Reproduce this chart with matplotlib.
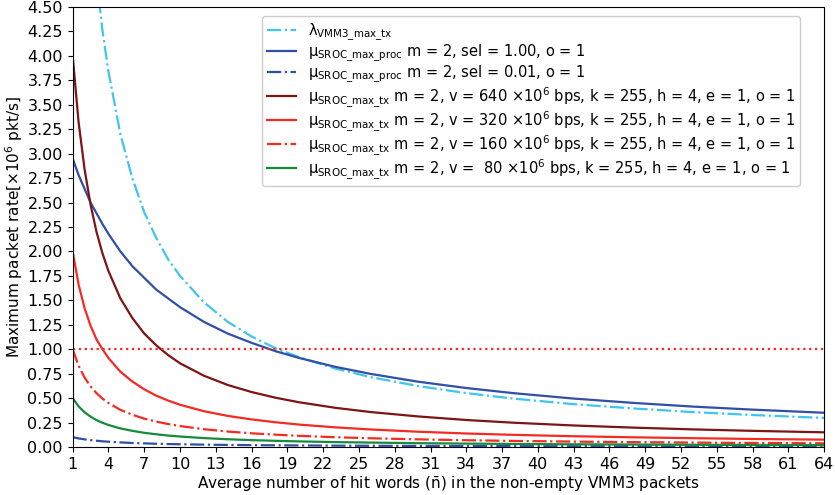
import matplotlib
matplotlib.use("Agg")
import matplotlib.pyplot as plt

# sample points along the hit-word axis
n_hits = [1, 1.5, 2, 2.5, 3, 3.5, 4, 5, 6, 7, 8, 9, 10, 12, 14, 16, 18, 20,
          23, 26, 30, 34, 38, 43, 48, 53, 58, 64]

# packet rates [x10^6 pkt/s]
lambda_vmm3 = [9.51, 7.63, 6.37, 5.47, 4.79, 4.26, 3.84, 3.20, 2.75, 2.40, 2.14,
               1.92, 1.75, 1.48, 1.28, 1.13, 1.01, 0.918, 0.803, 0.714, 0.622,
               0.551, 0.494, 0.438, 0.394, 0.357, 0.327, 0.297]
mu_proc_sel100 = [2.95, 2.78, 2.64, 2.50, 2.39, 2.28, 2.18, 2.00, 1.85, 1.73, 1.61,
                  1.52, 1.43, 1.28, 1.16, 1.065, 0.98, 0.91, 0.82, 0.747, 0.667,
                  0.603, 0.550, 0.495, 0.451, 0.413, 0.382, 0.350]
mu_proc_sel001 = [0.100, 0.0875, 0.078, 0.070, 0.064, 0.058, 0.054, 0.047, 0.041,
                  0.037, 0.033, 0.030, 0.028, 0.024, 0.021, 0.019, 0.017, 0.0156,
                  0.0137, 0.0123, 0.0108, 0.0096, 0.0086, 0.0077, 0.0069, 0.0063,
                  0.0058, 0.0053]
mu_tx_640 = [4.00, 3.32, 2.84, 2.48, 2.20, 1.98, 1.80, 1.52, 1.32, 1.16, 1.04,
             0.94, 0.856, 0.729, 0.634, 0.562, 0.504, 0.457, 0.401, 0.357, 0.312,
             0.276, 0.248, 0.220, 0.198, 0.180, 0.165, 0.150]
mu_tx_320 = [2.00, 1.66, 1.42, 1.24, 1.10, 1.00, 0.91, 0.77, 0.67, 0.59, 0.525,
             0.475, 0.432, 0.366, 0.318, 0.282, 0.253, 0.229, 0.201, 0.179, 0.156,
             0.138, 0.124, 0.110, 0.099, 0.090, 0.082, 0.075]
mu_tx_160 = [1.00, 0.83, 0.71, 0.62, 0.55, 0.495, 0.45, 0.38, 0.33, 0.29, 0.26,
             0.235, 0.214, 0.182, 0.158, 0.140, 0.126, 0.114, 0.100, 0.089, 0.078,
             0.069, 0.062, 0.055, 0.0495, 0.045, 0.041, 0.0375]
mu_tx_80 = [0.50, 0.415, 0.355, 0.31, 0.275, 0.2475, 0.225, 0.19, 0.165, 0.145,
            0.13, 0.117, 0.107, 0.091, 0.079, 0.070, 0.063, 0.057, 0.050, 0.045,
            0.039, 0.0345, 0.031, 0.0275, 0.025, 0.0225, 0.0206, 0.019]

x_ticks = list(range(1, 65, 3))
y_ticks = [i * 0.25 for i in range(19)]

fig = plt.figure(figsize=(8.35, 4.95), dpi=100)
ax = fig.add_axes([0.087, 0.097, 0.900, 0.889])

tx = r"μ$_{\mathrm{SROC\_max\_tx}}$"
proc = r"μ$_{\mathrm{SROC\_max\_proc}}$"
tail = r" bps, k = 255, h = 4, e = 1, o = 1"

ax.plot(n_hits, lambda_vmm3, color="#3ec6ee", linestyle="-.", linewidth=1.6,
        label=r"λ$_{\mathrm{VMM3\_max\_tx}}$")
ax.plot(n_hits, mu_proc_sel100, color="#3050a8", linewidth=1.6,
        label=proc + " m = 2, sel = 1.00, o = 1")
ax.plot(n_hits, mu_proc_sel001, color="#3050a8", linestyle="-.", linewidth=1.6,
        label=proc + " m = 2, sel = 0.01, o = 1")
ax.plot(n_hits, mu_tx_640, color="#7e1414", linewidth=1.6,
        label=tx + r" m = 2, v = 640 $\times10^6$" + tail)
ax.plot(n_hits, mu_tx_320, color="#f52a22", linewidth=1.6,
        label=tx + r" m = 2, v = 320 $\times10^6$" + tail)
ax.plot(n_hits, mu_tx_160, color="#f52a22", linestyle="-.", linewidth=1.6,
        label=tx + r" m = 2, v = 160 $\times10^6$" + tail)
ax.plot(n_hits, mu_tx_80, color="#178a3c", linewidth=1.6,
        label=tx + r" m = 2, v =  80 $\times10^6$" + tail)

ax.axhline(1.0, color="#f52a22", linestyle=":", linewidth=1.6)

ax.set_xlim(1, 64)
ax.set_ylim(0, 4.5)
ax.set_xticks(x_ticks)
ax.set_yticks(y_ticks)
ax.set_yticklabels([f"{v:.2f}" for v in y_ticks])
ax.tick_params(labelsize=11.5)
ax.set_xlabel(r"Average number of hit words ($\bar{\mathrm{n}}$) in the non-empty VMM3 packets",
              fontsize=11, labelpad=2)
ax.set_ylabel(r"Maximum packet rate[$\times10^6$ pkt/s]", fontsize=11, labelpad=2)

ax.legend(loc="upper right", bbox_to_anchor=(0.978, 0.995), fontsize=10.5,
          handlelength=2.0, labelspacing=0.02, borderpad=0.35, framealpha=1.0)

fig.savefig("out.png", dpi=100)
